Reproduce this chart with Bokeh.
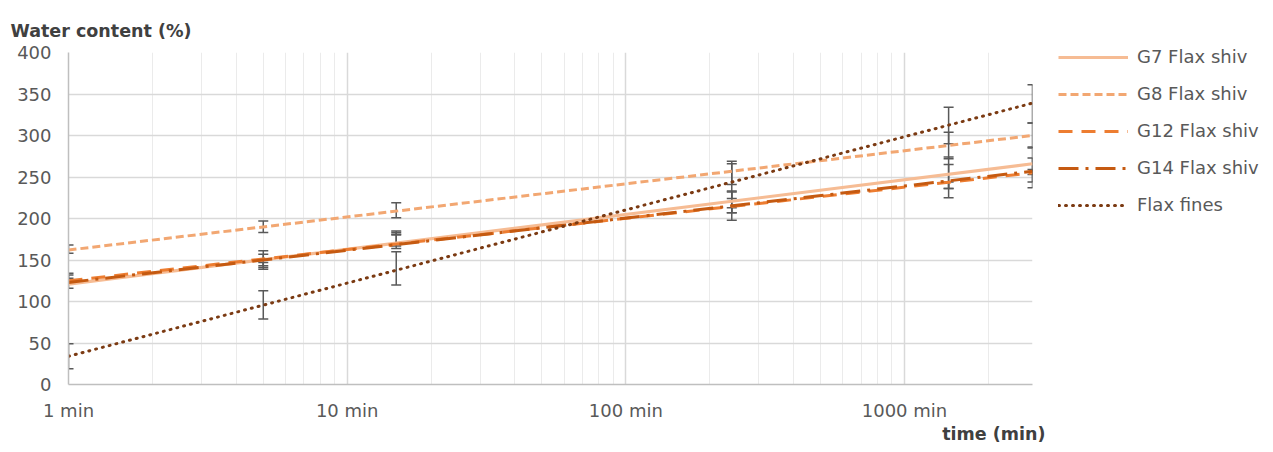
from bokeh.plotting import figure
from bokeh.models import (Range1d, FixedTicker, Whisker, TeeHead, ColumnDataSource,
                          Title, Legend, LegendItem)
from bokeh.embed import file_html
from bokeh.resources import INLINE

# ---------------- data ----------------
times = [1, 5, 15, 240, 1440, 2880]
series_names = ["G7 Flax shiv", "G8 Flax shiv", "G12 Flax shiv", "G14 Flax shiv", "Flax fines"]

g7_mean = [125, 150, 172, 220, 255, 265]
g7_err = [9, 11, 8, 13, 19, 21]
g8_mean = [163, 190, 210, 255, 288, 300]
g8_err = [5, 7, 9, 14, 16, 15]
g12_mean = [127, 150, 175, 215, 245, 255]
g12_err = [5, 7, 8, 17, 20, 18]
g14_mean = [125, 144, 183, 210, 240, 256]
g14_err = [3, 3, 2, 3, 4, 3]
fines_mean = [34, 96, 140, 245, 312, 338]
fines_err = [15, 17, 20, 21, 22, 23]

# logarithmic trend lines (value at 1 min and at 2880 min)
trend_x = [1, 2880]
g7_trend = [121, 266]
g8_trend = [162, 300]
g12_trend = [125, 255]
g14_trend = [123, 257]
fines_trend = [34, 339]

x_ticks = [1, 10, 100, 1000]
x_tick_labels = ["1 min", "10 min", "100 min", "1000 min"]
y_ticks = [0, 50, 100, 150, 200, 250, 300, 350, 400]

means = [g7_mean, g8_mean, g12_mean, g14_mean, fines_mean]
errs = [g7_err, g8_err, g12_err, g14_err, fines_err]
trends = [g7_trend, g8_trend, g12_trend, g14_trend, fines_trend]

# ---------------- styles ----------------
FONT = "DejaVu Sans"
colors = ["#F6BC94", "#F2A772", "#ED7D31", "#C55A11", "#7B3A12"]
dashes = ["solid", "8 4", "14 9", "20 7 3 7", "1 6"]
caps = ["butt", "butt", "butt", "butt", "round"]
widths = [3.2, 3, 3, 3, 3]

p = figure(frame_width=964, frame_height=332, x_axis_type="log",
           x_range=Range1d(1, 2880), y_range=Range1d(0, 400),
           output_backend="svg", toolbar_location=None,
           min_border_left=68, min_border_right=0,
           min_border_top=52, min_border_bottom=0)
p.outline_line_color = None
p.background_fill_color = "white"
p.border_fill_color = "white"

minor = [m * d for d in (1, 10, 100, 1000) for m in range(2, 10) if m * d <= 2880]
p.xaxis.ticker = FixedTicker(ticks=x_ticks, minor_ticks=minor)
p.xaxis.major_label_overrides = {t: l for t, l in zip(x_ticks, x_tick_labels)}
p.yaxis.ticker = FixedTicker(ticks=y_ticks)

for ax in (p.xaxis[0], p.yaxis[0]):
    ax.major_tick_line_color = None
    ax.minor_tick_line_color = None
    ax.axis_line_color = "#BFBFBF"
    ax.axis_line_width = 1.5
    ax.major_label_text_font = FONT
    ax.major_label_text_font_size = "18px"
    ax.major_label_text_color = "#595959"
p.xaxis.major_label_standoff = 9
p.yaxis.major_label_standoff = 11

p.xgrid.grid_line_color = "#D9D9D9"
p.xgrid.grid_line_width = 1.5
p.xgrid.minor_grid_line_color = "#EBEBEB"
p.xgrid.minor_grid_line_width = 1
p.ygrid.grid_line_color = "#D9D9D9"
p.ygrid.grid_line_width = 1.5

# error bars
for m, e in zip(means, errs):
    src = ColumnDataSource(dict(x=times,
                                upper=[a + b for a, b in zip(m, e)],
                                lower=[a - b for a, b in zip(m, e)]))
    w = Whisker(base="x", upper="upper", lower="lower", source=src,
                line_color="#595959", line_width=1.5,
                upper_head=TeeHead(size=10, line_color="#595959", line_width=1.5),
                lower_head=TeeHead(size=10, line_color="#595959", line_width=1.5))
    p.add_layout(w)

# trend lines
renderers = []
for name, t, c, d, cap, lw in zip(series_names, trends, colors, dashes, caps, widths):
    r = p.line(trend_x, t, line_color=c, line_width=lw, line_dash=d, line_cap=cap)
    renderers.append(r)

legend = Legend(items=[LegendItem(label=n, renderers=[r]) for n, r in zip(series_names, renderers)],
                location=(26, 169), orientation="vertical",
                glyph_width=70, glyph_height=20, label_height=20, spacing=16,
                padding=0, margin=0, border_line_color=None, background_fill_alpha=0,
                label_text_font=FONT, label_text_font_size="18px",
                label_text_color="#595959", label_standoff=9)
p.add_layout(legend, "right")

p.add_layout(Title(text="Water content (%)", align="left", offset=-58, standoff=20,
                   vertical_align="top",
                   text_font=FONT, text_font_style="bold", text_font_size="17.5px",
                   text_color="#404040"), "above")
p.add_layout(Title(text="time (min)", align="right", offset=-13, standoff=0,
                   vertical_align="top",
                   text_font=FONT, text_font_style="bold", text_font_size="17.5px",
                   text_color="#404040"), "below")

open("out.html", "w").write(file_html(p, INLINE))
